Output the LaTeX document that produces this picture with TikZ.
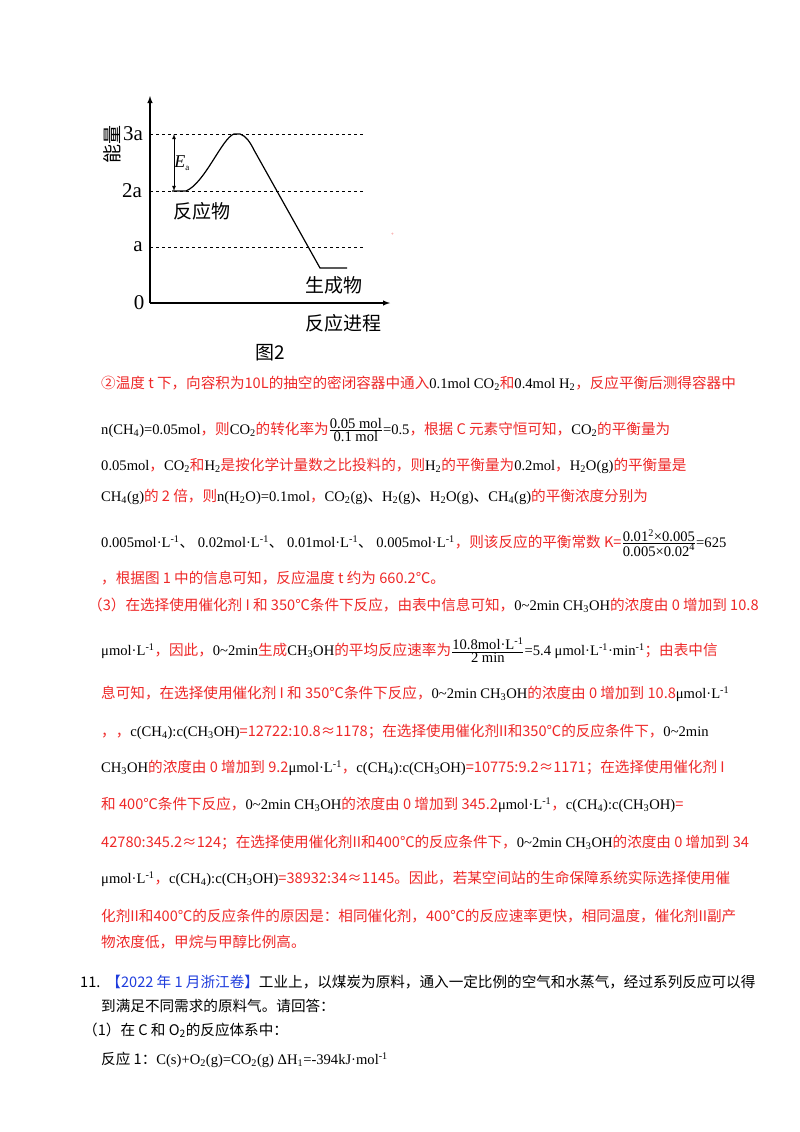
\documentclass[tikz,border=0pt]{standalone}
\usepackage{fontspec}
\setmainfont{Noto Sans CJK SC}
\newfontfamily\tm{Liberation Serif}
\usetikzlibrary{positioning}
\definecolor{ared}{RGB}{238,40,40}
\definecolor{ablue}{RGB}{30,60,220}
\newcommand\K[1]{{\color{black}\tm #1}}
\newcommand\sbs[1]{\textsubscript{#1}}
\newcommand\sps[1]{\textsuperscript{#1}}
\newcommand\ml{μmol·L\sps{-1}}
\newcommand\mll{mol·L\sps{-1}}
\newcommand\cc{c(CH\sbs4):c(CH\sbs3OH)}
\newcommand\dn{{\color{black}、}}
\begin{document}
\begin{tikzpicture}[x=1pt,y=-1pt]
    \tikzstyle{lines}=[draw=black,dashed,thick]
    \tikzstyle{axes}=[-latex,line width=1.4pt]
    \tikzstyle{lbl}=[font=\fontsize{21}{24}\selectfont\tm,inner sep=0pt]
    \tikzstyle{cn}=[font=\fontsize{19}{22}\selectfont,inner sep=0pt]
    \tikzstyle{txt}=[anchor=west,inner sep=0pt,text=ared,font=\fontsize{14.6}{17}\selectfont]
    \useasboundingbox (0,0) rectangle (800,1132);
    % energy chart
    \coordinate (o) at (150,303);
    \coordinate (ytop) at (150,96);
    \coordinate (xend) at (390,303);
    \draw[axes] (o) -- (ytop);
    \draw[axes] (o) -- (xend);
    \draw[lines] (150,134) -- (365,134);
    \draw[lines] (150,191) -- (365,191);
    \draw[lines] (150,247) -- (365,247);
    \node[lbl] at (133,134) {3a};
    \node[lbl] at (132,191) {2a};
    \node[lbl] at (138,247) {a};
    \node[lbl] at (139,303) {0};
    \node[cn,rotate=90] at (112,144) {能量};
    \draw[line width=1.2pt] (172,191) -- (186,191) .. controls (205,183) and (222,138) .. (234,134)
      -- (240,134) .. controls (246,136) and (250,142) .. (254,150) -- (320,268) -- (347,268);
    \coordinate (ea1) at (174,134);
    \coordinate (ea2) at (174,191);
    \draw[latex-latex,thick] (ea1) -- (ea2);
    \node[inner sep=0pt] at (182,163) {\tm\fontsize{18}{20}\selectfont\textit{E}\textsubscript{\fontsize{9}{9}\selectfont a}};
    \node[cn] (react) at (202,211) {反应物};
    \node[cn] (prod) at (334,285) {生成物};
    \node[cn] (proc) at (343,323) {反应进程};
    \node[cn] (fig) at (270,353) {图2};
    \node[text=ared,font=\tiny] at (394,234) {。};
    % answer text
    \node[txt] (l1) at (101,383) {②温度 t 下，向容积为10L的抽空的密闭容器中通入\K{0.1mol CO\sbs2}和\K{0.4mol H\sbs2}，反应平衡后测得容器中};
    \node[txt] (l2) at (101,430) {\K{n(CH\sbs4)=0.05mol}，则\K{CO\sbs2}的转化率为\K{$\frac{\hbox{\tm 0.05 mol}}{\hbox{\tm 0.1 mol}}$=0.5}，根据 C 元素守恒可知，\K{CO\sbs2}的平衡量为};
    \node[txt] (l3) at (101,466) {\K{0.05mol}，\K{CO\sbs2}和\K{H\sbs2}是按化学计量数之比投料的，则\K{H\sbs2}的平衡量为\K{0.2mol}，\K{H\sbs2O(g)}的平衡量是};
    \node[txt] (l4) at (101,497) {\K{CH\sbs4(g)}的 2 倍，则\K{n(H\sbs2O)=0.1mol}，\K{CO\sbs2(g)}\dn\K{H\sbs2(g)}\dn\K{H\sbs2O(g)}\dn\K{CH\sbs4(g)}的平衡浓度分别为};
    \node[txt] (l5) at (101,543) {\K{0.005\mll}\dn\K{ 0.02\mll}\dn\K{ 0.01\mll}\dn\K{ 0.005\mll}，则该反应的平衡常数 K=\K{$\frac{\hbox{\tm 0.01\sps2×0.005}}{\hbox{\tm 0.005×0.02\sps4}}$=625}};
    \node[txt] (l6) at (101,578) {，根据图 1 中的信息可知，反应温度 t 约为 660.2℃。};
    \node[txt] (l7) at (88,605) {（3）在选择使用催化剂 I 和 350℃条件下反应，由表中信息可知，\K{0\textasciitilde 2min CH\sbs3OH}的浓度由 0 增加到 10.8};
    \node[txt] (l8) at (101,650) {\K{\ml}，因此，\K{0\textasciitilde 2min}生成\K{CH\sbs3OH}的平均反应速率为\K{$\frac{\hbox{\tm 10.8mol·L\sps{-1}}}{\hbox{\tm 2 min}}$=5.4 \ml·min\sps{-1}}；由表中信};
    \node[txt] (l9) at (101,694) {息可知，在选择使用催化剂 I 和 350℃条件下反应，\K{0\textasciitilde 2min CH\sbs3OH}的浓度由 0 增加到 10.8\K{\ml}};
    \node[txt] (l10) at (101,732) {，，\K{\cc}=12722:10.8≈1178；在选择使用催化剂II和350℃的反应条件下，\K{0\textasciitilde 2min}};
    \node[txt] (l11) at (101,768) {\K{CH\sbs3OH}的浓度由 0 增加到 9.2\K{\ml}，\K{\cc}=10775:9.2≈1171；在选择使用催化剂 I};
    \node[txt] (l12) at (101,805) {和 400℃条件下反应，\K{0\textasciitilde 2min CH\sbs3OH}的浓度由 0 增加到 345.2\K{\ml}，\K{\cc}=};
    \node[txt] (l13) at (101,842) {42780:345.2≈124；在选择使用催化剂II和400℃的反应条件下，\K{0\textasciitilde 2min CH\sbs3OH}的浓度由 0 增加到 34};
    \node[txt] (l14) at (101,879) {\K{\ml}，\K{\cc}=38932:34≈1145。因此，若某空间站的生命保障系统实际选择使用催};
    \node[txt] (l15) at (101,916) {化剂II和400℃的反应条件的原因是：相同催化剂，400℃的反应速率更快，相同温度，催化剂II副产};
    \node[txt] (l16) at (101,942) {物浓度低，甲烷与甲醇比例高。};
    \node[txt,text=black] (l17) at (80,982) {11.\hspace{6pt}{\color{ablue}【2022 年 1 月浙江卷】}工业上，以煤炭为原料，通入一定比例的空气和水蒸气，经过系列反应可以得};
    \node[txt,text=black] (l18) at (101,1006) {到满足不同需求的原料气。请回答：};
    \node[txt,text=black] (l19) at (83,1030) {（1）在 C 和 O\sbs2的反应体系中：};
    \node[txt,text=black] (l20) at (101,1060) {反应 1：{\tm C(s)+O\sbs2(g)=CO\sbs2(g) ΔH\sbs1=-394kJ·mol\sps{-1}}};
\end{tikzpicture}
\end{document}
